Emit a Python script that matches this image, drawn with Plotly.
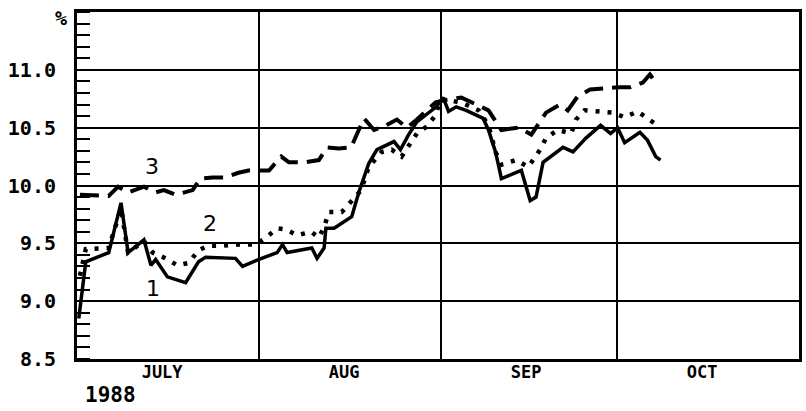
import pandas as pd
import plotly.graph_objects as go

# ---- data (day offsets from 1 July 1988, rate in %) ----
s1_days = [0.3, 1.5, 5.4, 7.5, 8.7, 11.4, 12.6, 13.4, 15.4, 18.5, 20.7, 21.9, 27.0, 28.2,
           30.9, 34.1, 35.0, 35.8, 40.0, 40.9, 42.1, 42.4, 43.8, 46.8, 48.0, 49.7, 51.1,
           54.0, 55.1, 56.5, 57.9, 61.2, 62.4, 63.3, 64.6, 66.3, 69.2, 70.1, 71.3, 72.3,
           75.7, 77.2, 78.2, 79.4, 82.8, 84.5, 86.7, 89.2, 90.9, 92.1, 93.3, 95.9, 97.2,
           98.6, 99.4]
s1_vals = [8.85, 9.34, 9.42, 9.85, 9.42, 9.53, 9.31, 9.36, 9.21, 9.16, 9.34, 9.38, 9.37, 9.30,
           9.36, 9.42, 9.49, 9.42, 9.46, 9.37, 9.46, 9.63, 9.63, 9.73, 9.94, 10.19, 10.31,
           10.38, 10.31, 10.44, 10.55, 10.68, 10.76, 10.64, 10.68, 10.65, 10.58, 10.48, 10.29, 10.06,
           10.13, 9.87, 9.90, 10.20, 10.33, 10.29, 10.41, 10.52, 10.45, 10.50, 10.37, 10.46, 10.39,
           10.25, 10.22]

s2_days = [0.5, 1.5, 5.4, 7.5, 8.7, 11.4, 12.9, 15.1, 17.1, 19.0, 20.7, 22.4, 24.8, 27.5,
           30.4, 32.2, 34.1, 35.6, 37.5, 39.9, 41.2, 42.1, 42.9, 45.1, 48.4, 49.7, 51.9,
           53.6, 55.3, 56.5, 57.9, 59.6, 61.1, 61.9, 63.3, 65.8, 68.4, 70.1, 71.3, 72.3,
           74.8, 76.9, 78.9, 79.9, 81.9, 84.2, 85.0, 86.5, 89.1, 91.3, 93.3, 95.5, 97.2, 98.9]
s2_vals = [9.22, 9.45, 9.46, 9.80, 9.42, 9.52, 9.42, 9.37, 9.31, 9.33, 9.44, 9.48, 9.48, 9.49,
           9.49, 9.55, 9.63, 9.62, 9.57, 9.60, 9.55, 9.64, 9.77, 9.77, 9.96, 10.16, 10.29,
           10.31, 10.25, 10.35, 10.45, 10.51, 10.61, 10.74, 10.74, 10.71, 10.65, 10.52, 10.29, 10.18,
           10.22, 10.16, 10.31, 10.41, 10.48, 10.45, 10.57, 10.65, 10.64, 10.63, 10.59, 10.64, 10.58, 10.52]

s3_days = [0.5, 5.4, 7.0, 8.7, 11.4, 13.4, 14.8, 16.8, 19.7, 21.0, 23.1, 25.3, 27.5, 29.2,
           32.7, 34.8, 36.1, 38.7, 41.2, 42.6, 44.6, 46.7, 48.0, 48.9, 50.6, 52.6, 54.5,
           56.2, 57.9, 61.1, 62.8, 65.5, 67.2, 68.9, 70.1, 71.4, 72.3, 75.2, 77.4, 79.9,
           82.3, 83.6, 85.3, 87.4, 92.1, 94.3, 96.4, 97.6, 98.6]
s3_vals = [9.92, 9.91, 9.99, 9.94, 9.99, 9.94, 9.96, 9.92, 9.96, 10.06, 10.07, 10.07, 10.11, 10.13,
           10.13, 10.25, 10.20, 10.20, 10.22, 10.33, 10.32, 10.33, 10.48, 10.58, 10.48, 10.52, 10.57,
           10.50, 10.57, 10.72, 10.74, 10.76, 10.72, 10.68, 10.65, 10.55, 10.48, 10.50, 10.44, 10.63,
           10.70, 10.65, 10.77, 10.83, 10.85, 10.85, 10.89, 10.96, 10.89]

month_ticks = ["1988-07-15 12:00", "1988-08-15 12:00", "1988-09-15 12:00", "1988-10-15 12:00"]
month_labels = ["JULY", "AUG", "SEP", "OCT"]
month_bounds = ["1988-08-01", "1988-09-01", "1988-10-01"]
y_ticks = [8.5, 9.0, 9.5, 10.0, 10.5, 11.0]
y_labels = ["8.5", "9.0", "9.5", "10.0", "10.5", "11.0"]
series_labels = ["1", "2", "3"]
series_label_days = [12.9, 22.6, 12.7]
series_label_vals = [9.11, 9.67, 10.16]

base = pd.Timestamp("1988-07-01")
def to_dates(days):
    return base + pd.to_timedelta(days, unit="D")

fig = go.Figure()
fig.add_trace(go.Scatter(x=to_dates(s3_days), y=s3_vals, mode="lines",
                         line=dict(color="black", width=4, dash="19px,9px"), showlegend=False))
fig.add_trace(go.Scatter(x=to_dates(s2_days), y=s2_vals, mode="lines",
                         line=dict(color="black", width=4.5, dash="4px,8px"), showlegend=False))
fig.add_trace(go.Scatter(x=to_dates(s1_days), y=s1_vals, mode="lines",
                         line=dict(color="black", width=3.5), showlegend=False))

for t, d, v in zip(series_labels, series_label_days, series_label_vals):
    fig.add_annotation(x=to_dates([d])[0], y=v, text=t, showarrow=False,
                       xanchor="center", yanchor="middle",
                       font=dict(family="DejaVu Sans", size=22, color="black"))

fig.add_annotation(xref="paper", yref="paper", x=-0.022, y=0.983, text="%", showarrow=False,
                   xanchor="center", yanchor="middle",
                   font=dict(family="DejaVu Sans Mono", size=20, color="black", weight="bold"))
fig.add_annotation(xref="paper", yref="paper", x=0.047, y=-0.104, text="1988", showarrow=False,
                   xanchor="center", yanchor="middle",
                   font=dict(family="DejaVu Sans Mono", size=21, color="black", weight="bold"))

fig.update_layout(
    width=806, height=411,
    margin=dict(l=77, r=4, t=12, b=52),
    paper_bgcolor="white", plot_bgcolor="white",
    xaxis=dict(
        type="date", range=["1988-07-01", "1988-11-01"],
        tickmode="array", tickvals=month_ticks, ticktext=month_labels,
        ticks="", showgrid=False, zeroline=False,
        showline=True, linecolor="black", linewidth=3, mirror=True,
        tickfont=dict(family="DejaVu Sans Mono", size=17, color="black", weight="bold"),
        ticklabelstandoff=-4,
        minor=dict(tickmode="array", tickvals=month_bounds, showgrid=True,
                   gridcolor="black", gridwidth=2, ticks=""),
    ),
    yaxis=dict(
        range=[8.5, 11.5],
        tickmode="array", tickvals=y_ticks, ticktext=y_labels,
        ticks="", showgrid=True, gridcolor="black", gridwidth=2, zeroline=False,
        showline=True, linecolor="black", linewidth=3, mirror=True,
        tickfont=dict(family="DejaVu Sans Mono", size=20, color="black", weight="bold"),
        ticklabelstandoff=14,
        minor=dict(tickmode="linear", tick0=8.5, dtick=0.1, ticks="inside",
                   ticklen=13, tickwidth=2, tickcolor="black", showgrid=False),
    ),
)

fig.write_html("out.html")
